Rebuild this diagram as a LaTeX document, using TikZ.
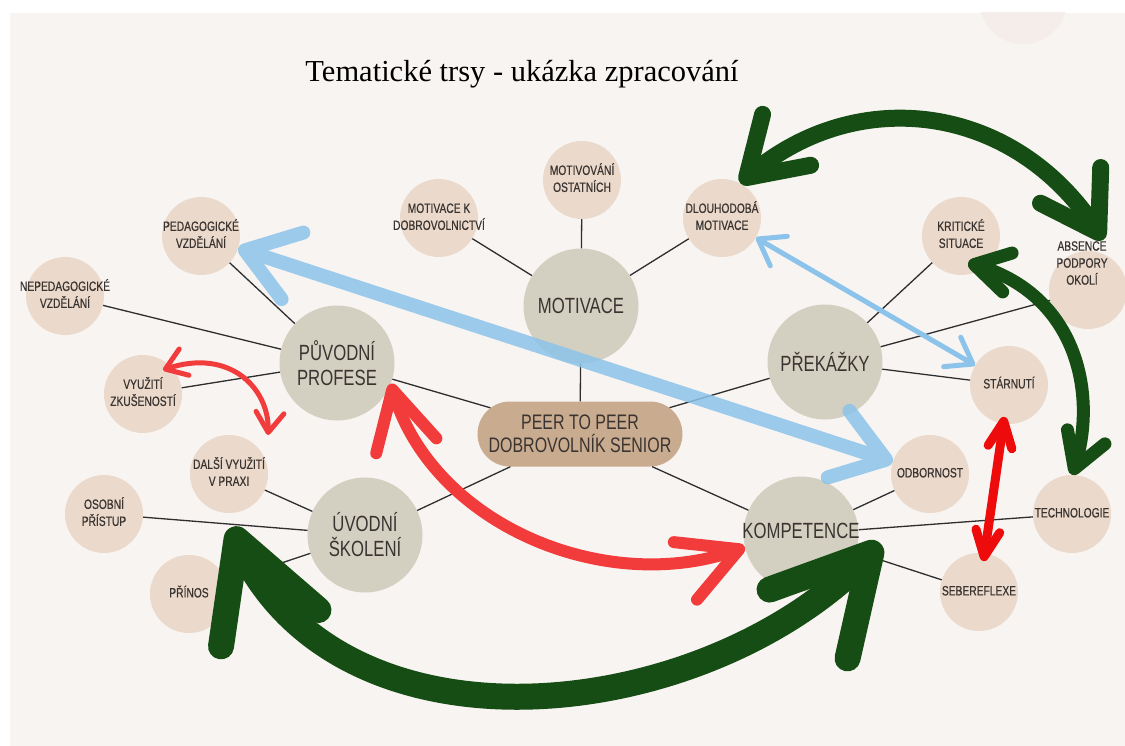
\documentclass[tikz,border=0pt]{standalone}
\usepackage{fontspec}
\setmainfont{Liberation Serif}
\newfontfamily\lblfont[FakeStretch=0.76]{Liberation Sans}
\newfontfamily\smfont[FakeStretch=0.76, FakeBold=0.6]{Liberation Sans}
\usetikzlibrary{arrows.meta,bending,shapes.misc}

\definecolor{bgcream}{HTML}{F8F4F1}
\definecolor{faintc}{HTML}{F4EDE9}
\definecolor{smallfill}{HTML}{EBDACB}
\definecolor{bigfill}{HTML}{D4D0C1}
\definecolor{peerfill}{HTML}{C9AB8F}
\definecolor{txtcol}{HTML}{3A3431}
\definecolor{linecol}{HTML}{2E2E2E}
\definecolor{arrgreen}{HTML}{164D15}
\definecolor{arrred}{HTML}{F23B3B}
\definecolor{brightred}{HTML}{EE0B0B}
\definecolor{arrblue}{HTML}{8CC3EA}

\newcommand{\mlbl}[1]{\makebox[0pt]{\begin{tabular}{@{}c@{}}#1\end{tabular}}}

\begin{document}
\begin{tikzpicture}[
  x=1pt, y=-1pt,
  sm/.style={circle, fill=smallfill, minimum size=78pt, inner sep=0pt, text=txtcol, font=\smfont\fontsize{13.5}{17}\selectfont},
  smtxt/.style={inner sep=1pt, text=txtcol, font=\smfont\fontsize{13.5}{17}\selectfont},
  big/.style={circle, fill=bigfill, minimum size=115pt, inner sep=0pt, align=center, text=txtcol, font=\lblfont\fontsize{22}{25}\selectfont},
  core/.style={rounded rectangle, fill=peerfill, minimum width=205pt, minimum height=65pt, inner sep=0pt, align=center, text=txtcol, font=\lblfont\fontsize{21}{23}\selectfont},
  link/.style={draw=linecol, line width=1.3pt},
  grnfat/.style={draw=arrgreen, line width=26pt, {Straight Barb[flex, length=95pt, width=104pt, round]}-{Straight Barb[flex, length=95pt, width=104pt, round]}},
  grnmid/.style={draw=arrgreen, line width=17pt, {Straight Barb[flex, length=55pt, width=70pt, round]}-{Straight Barb[flex, length=55pt, width=70pt, round]}},
  grnthin/.style={draw=arrgreen, line width=13pt, {Straight Barb[flex, length=34pt, width=40pt, round]}-{Straight Barb[flex, length=34pt, width=40pt, round]}},
  redfat/.style={draw=arrred, line width=12pt, {Straight Barb[flex, length=58pt, width=62pt, round]}-{Straight Barb[flex, length=58pt, width=62pt, round]}},
  redthin/.style={draw=arrred, line width=5pt, {Straight Barb[flex, length=20pt, width=28pt, round]}-{Straight Barb[flex, length=20pt, width=28pt, round]}},
  redbar/.style={draw=brightred, line width=9pt, {Straight Barb[length=26pt, width=24pt, round]}-{Straight Barb[length=26pt, width=24pt, round]}},
  blufat/.style={draw=arrblue, line width=14pt, {Straight Barb[length=50pt, width=70pt, round]}-{Straight Barb[length=50pt, width=70pt, round]}},
  bluthin/.style={draw=arrblue, line width=5pt, {Straight Barb[length=24pt, width=34pt, round]}-{Straight Barb[length=24pt, width=34pt, round]}}
]
\useasboundingbox (0,0) rectangle (1125,746);
\fill[white] (0,0) rectangle (1125,746);
\fill[bgcream] (10,13) rectangle (1125,746);
\begin{scope}
  \clip (10,13) rectangle (1125,746);
  \fill[faintc] (1023,0) circle (44pt);
\end{scope}

\node[font=\fontsize{30.5}{30}\selectfont, text=black] (title) at (522,74) {Tematické trsy - ukázka zpracování};

\node[big] (motivace) at (581,306) {MOTIVACE};
\node[big] (puvodni) at (337,363) {PŮVODNÍ\\PROFESE};
\node[big] (prekazky) at (825,362) {PŘEKÁŽKY};
\node[big] (uvodni) at (365,535) {ÚVODNÍ\\ŠKOLENÍ};
\node[big] (kompet) at (801,534) {\raisebox{8pt}{\mlbl{KOMPETENCE}}};
\node[core] (peer) at (580,434) {PEER TO PEER\\DOBROVOLNÍK SENIOR};

\node[sm] (motk) at (439,218) {\mlbl{MOTIVACE K\\DOBROVOLNICTVÍ}};
\node[sm] (motost) at (582,180) {\mlbl{MOTIVOVÁNÍ\\OSTATNÍCH}};
\node[sm] (dlouh) at (722,218) {\mlbl{DLOUHODOBÁ\\MOTIVACE}};
\node[sm] (pedag) at (201,236) {\mlbl{PEDAGOGICKÉ\\VZDĚLÁNÍ}};
\node[sm] (nepedag) at (65,296) {\mlbl{NEPEDAGOGICKÉ\\VZDĚLÁNÍ}};
\node[sm] (vyuz) at (143,394) {\mlbl{VYUŽITÍ\\ZKUŠENOSTÍ}};
\node[sm] (dalsi) at (229,474) {\mlbl{DALŠÍ VYUŽITÍ\\V PRAXI}};
\node[sm] (osobni) at (104,514) {\mlbl{OSOBNÍ\\PŘÍSTUP}};
\node[sm] (prinos) at (189,594) {\mlbl{PŘÍNOS}};
\node[sm] (kritic) at (961,236) {\mlbl{KRITICKÉ\\SITUACE}};
\node[sm] (absence) at (1088,290) {};
\node[smtxt, align=center] (absencetxt) at (1082,263) {ABSENCE\\PODPORY\\OKOLÍ};
\node[sm] (starnuti) at (1009,385) {\mlbl{STÁRNUTÍ}};
\node[sm] (odborn) at (930,474) {\mlbl{ODBORNOST}};
\node[sm] (techno) at (1072,514) {\mlbl{TECHNOLOGIE}};
\node[sm] (sebere) at (979,592) {\mlbl{SEBEREFLEXE}};

\draw[link] (motivace) -- (motk);
\draw[link] (motivace) -- (motost);
\draw[link] (motivace) -- (dlouh);
\draw[link] (motivace) -- (peer);
\draw[link] (puvodni) -- (pedag);
\draw[link] (puvodni) -- (nepedag);
\draw[link] (puvodni) -- (vyuz);
\draw[link] (puvodni) -- (peer);
\draw[link] (uvodni) -- (dalsi);
\draw[link] (uvodni) -- (osobni);
\draw[link] (uvodni) -- (prinos);
\draw[link] (uvodni) -- (peer);
\draw[link] (prekazky) -- (kritic);
\draw[link] (prekazky) -- (absence);
\draw[link] (prekazky) -- (starnuti);
\draw[link] (prekazky) -- (peer);
\draw[link] (kompet) -- (odborn);
\draw[link] (kompet) -- (techno);
\draw[link] (kompet) -- (sebere);
\draw[link] (kompet) -- (peer);

\coordinate (gL) at (232,527);
\coordinate (gR) at (880,543);
\coordinate (gTopR) at (1103,240);
\coordinate (gKr) at (968,263);
\coordinate (rSmL) at (163,370);
\coordinate (rSmR) at (268,435);

\begin{scope}[transparency group, opacity=0.85]
  \draw[blufat] (pedag) -- (odborn);
\end{scope}
\draw[bluthin] (dlouh) -- (starnuti);
\draw[redthin] (rSmL) .. controls (230,345) and (272,390) .. (rSmR);
\draw[redfat] (puvodni.-21) .. controls +(35,141) and +(-134,54) .. (kompet.193);
\draw[redbar, shorten <=-7pt, shorten >=-8pt] (starnuti) -- (sebere);
\draw[grnfat] (gL) .. controls (323,771) and (715,730) .. (gR);
\draw[grnmid] (dlouh.62) .. controls (850,80) and (1020,100) .. (gTopR);
\draw[grnthin] (gKr) .. controls (1080,290) and (1100,400) .. (techno.north);
\end{tikzpicture}
\end{document}
